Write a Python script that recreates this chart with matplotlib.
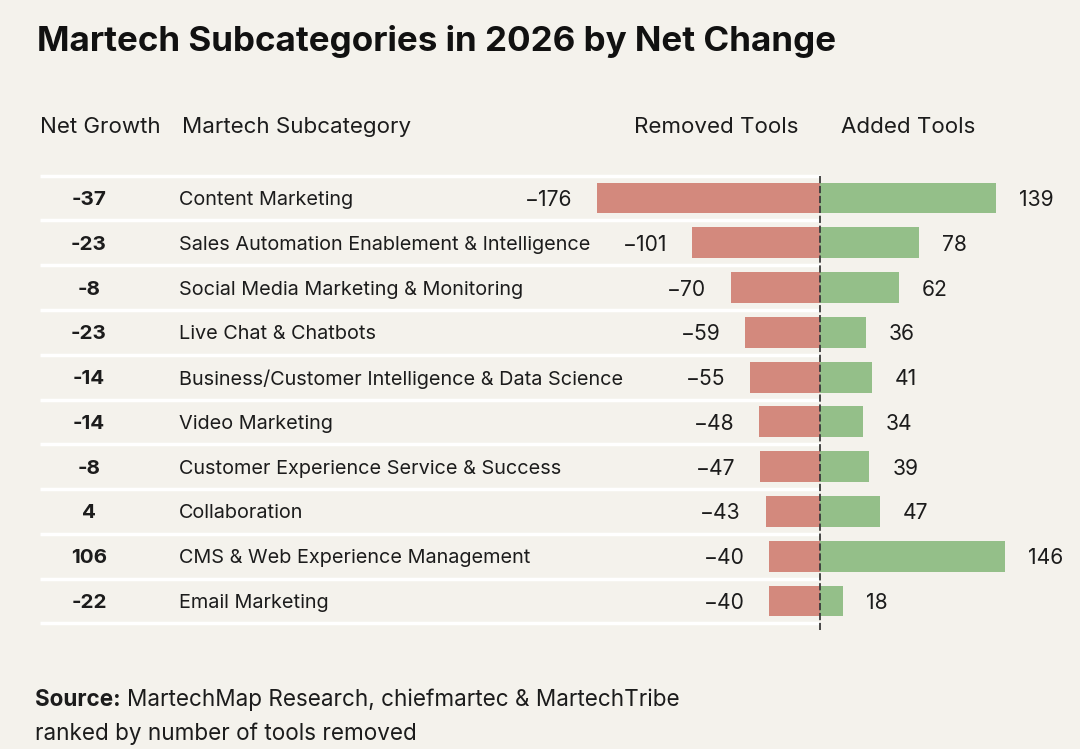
import matplotlib
matplotlib.use("Agg")
import matplotlib.pyplot as plt
from matplotlib.transforms import blended_transform_factory

plt.rcParams['font.family'] = ['Inter', 'DejaVu Sans']

categories = [
    "Content Marketing",
    "Sales Automation Enablement & Intelligence",
    "Social Media Marketing & Monitoring",
    "Live Chat & Chatbots",
    "Business/Customer Intelligence & Data Science",
    "Video Marketing",
    "Customer Experience Service & Success",
    "Collaboration",
    "CMS & Web Experience Management",
    "Email Marketing",
]
removed = [176, 101, 70, 59, 55, 48, 47, 43, 40, 40]
added = [139, 78, 62, 36, 41, 34, 39, 47, 146, 18]
net_growth = [-37, -23, -8, -23, -14, -14, -8, 4, 106, -22]

BG = "#f4f2ec"
RED = "#d3897d"
GREEN = "#94bf89"
TXT = "#1c1c1c"

W, H = 1080, 749
fig = plt.figure(figsize=(W / 100, H / 100), dpi=100, facecolor=BG)
ax = fig.add_axes([0, 0, 1, 1])
ax.set_facecolor(BG)

# scale: center at 820px, 1.267 px per tool; row 0 at 198px, 44.78px per row
cx, sx = 820.0, 1.267
r0, dr = 198.0, 44.78
ax.set_xlim(-cx / sx, (W - cx) / sx)
ax.set_ylim((H - r0) / dr, -r0 / dr)
ax.axis("off")

n = len(categories)
ys = list(range(n))

# row separators (white), from x=40px to center
x_left = (40 - cx) / sx
for i in range(n + 1):
    ax.plot([x_left, 0], [i - 0.5, i - 0.5], color="white", lw=2.5,
            solid_capstyle="butt", zorder=1)

ax.barh(ys, [-v for v in removed], height=0.69, color=RED, zorder=2)
ax.barh(ys, added, height=0.69, color=GREEN, zorder=2)

ax.plot([0, 0], [-0.5, n - 0.5 + 0.15], color="#3a3a3a", lw=1.3,
        linestyle=(0, (4, 1.5)), zorder=3)

VS = 15.2
for i in range(n):
    ax.annotate("\u2212" + str(removed[i]), (-removed[i], i), xytext=(-18, 0),
                textcoords="offset points", ha="right", va="center_baseline",
                fontsize=VS, color=TXT)
    ax.annotate(str(added[i]), (added[i], i), xytext=(16.5, 0),
                textcoords="offset points", ha="left", va="center_baseline",
                fontsize=VS, color=TXT)

pxx = blended_transform_factory(fig.transFigure, ax.transData)

def fx(px):
    return px / W

def fy(py):
    return 1 - py / H

for i in range(n):
    ax.text(fx(89), i, str(net_growth[i]), transform=pxx, ha="center",
            va="center_baseline", fontsize=14.8, fontweight="bold", color=TXT)
    ax.text(fx(179), i, categories[i], transform=pxx, ha="left",
            va="center_baseline", fontsize=14.3, color=TXT)

fig.text(fx(37), fy(38), "Martech Subcategories in 2026 by Net Change",
         fontsize=25.2, fontweight="bold", color="#111111", ha="left",
         va="center_baseline")

hdr = dict(fontsize=16.1, color=TXT, va="center_baseline")
fig.text(fx(40), fy(125), "Net Growth", ha="left", **hdr)
fig.text(fx(182), fy(125), "Martech Subcategory", ha="left", **hdr)
fig.text(fx(716), fy(125), "Removed Tools", ha="center", **hdr)
fig.text(fx(908), fy(125), "Added Tools", ha="center", **hdr)

SS = 16.2
t = fig.text(fx(35), fy(697), "Source:", fontsize=SS, fontweight="bold",
             color=TXT, ha="left", va="center_baseline")
r = fig.canvas.get_renderer()
bb = t.get_window_extent(renderer=r)
fig.text(bb.x1 / W + 6 / W, fy(697),
         "MartechMap Research, chiefmartec & MartechTribe",
         fontsize=SS, color=TXT, ha="left", va="center_baseline")
fig.text(fx(35), fy(731), "ranked by number of tools removed",
         fontsize=SS, color=TXT, ha="left", va="center_baseline")

fig.savefig("out.png", dpi=100, facecolor=BG)
